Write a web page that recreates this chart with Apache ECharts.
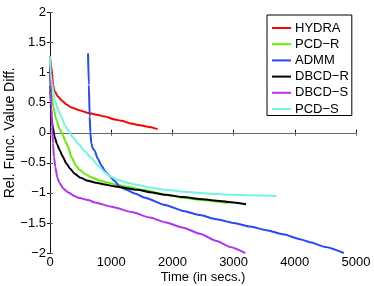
<!DOCTYPE html>
<html>
<head>
<meta charset="utf-8">
<script src="https://cdn.jsdelivr.net/npm/echarts@6/dist/echarts.min.js"></script>
<style>html,body{margin:0;padding:0;background:#fff}#c{width:374px;height:286px}</style>
</head>
<body>
<div id="c"></div>
<script>
// Data: [time (secs), relative function value difference]
const seriesNames = ['HYDRA', 'PCD\u2212R', 'ADMM', 'DBCD\u2212R', 'DBCD\u2212S', 'PCD\u2212S'];
const hydra = [[0,1.27],[15,1.12],[33,1.0],[49,0.8],[70,0.7],[131,0.6],[200,0.53],[270,0.47],[350,0.42],[463,0.38],[621,0.33],[760,0.3],[899,0.27],[1057,0.22],[1171,0.2],[1300,0.16],[1438,0.13],[1600,0.1],[1759,0.06]];
const pcdR = [[0,1.27],[8,0.9],[22,0.66],[50,0.45],[104,0.21],[160,0.06],[212,-0.04],[250,-0.14],[294,-0.23],[349,-0.4],[420,-0.54],[485,-0.62],[580,-0.69],[675,-0.74],[800,-0.79],[948,-0.83],[1100,-0.87],[1275,-0.9],[1500,-0.95],[1900,-1.03],[2178,-1.08],[2500,-1.12],[2900,-1.17]];
const admm = [[621,1.32],[635,0.8],[648,0.27],[660,0.0],[675,-0.18],[700,-0.26],[730,-0.3],[780,-0.43],[838,-0.54],[900,-0.64],[975,-0.72],[1050,-0.8],[1138,-0.89],[1250,-0.95],[1383,-1.01],[1552,-1.08],[1879,-1.2],[2178,-1.3],[2450,-1.37],[2723,-1.44],[3000,-1.5],[3268,-1.56],[3540,-1.62],[3813,-1.69],[4085,-1.77],[4248,-1.82],[4500,-1.9],[4800,-2.0]];
const dbcdR = [[0,1.27],[5,0.8],[12,0.5],[22,0.27],[45,0.1],[76,-0.07],[115,-0.19],[158,-0.29],[210,-0.4],[267,-0.51],[330,-0.6],[403,-0.68],[500,-0.75],[621,-0.8],[750,-0.83],[893,-0.86],[1050,-0.89],[1166,-0.91],[1438,-0.95],[1634,-0.99],[1879,-1.03],[2178,-1.07],[2450,-1.1],[2723,-1.13],[3000,-1.16],[3203,-1.19]];
const dbcdS = [[0,1.27],[8,0.7],[22,0.43],[35,0.1],[49,-0.18],[65,-0.4],[87,-0.57],[120,-0.75],[158,-0.84],[220,-0.93],[294,-0.99],[400,-1.05],[463,-1.08],[621,-1.12],[735,-1.16],[1008,-1.23],[1335,-1.32],[1634,-1.41],[1879,-1.49],[2178,-1.58],[2450,-1.68],[2723,-1.8],[2941,-1.9],[3190,-2.0]];
const pcdS = [[0,1.27],[11,1.0],[33,0.82],[76,0.54],[136,0.38],[185,0.27],[245,0.12],[294,0.04],[380,-0.08],[458,-0.18],[560,-0.3],[675,-0.42],[800,-0.56],[900,-0.66],[975,-0.72],[1100,-0.78],[1300,-0.84],[1438,-0.87],[1634,-0.91],[1900,-0.95],[2178,-0.98],[2450,-1.0],[2723,-1.02],[3000,-1.03],[3268,-1.04],[3700,-1.05]];
const xTicks = {min: 0, max: 5000, interval: 1000};
const yTicks = {min: -2, max: 2, interval: 0.5};
const colors = ['#ff0000', '#62f000', '#2648f8', '#000000', '#b233f2', '#72f6df'];
const allData = [hydra, pcdR, admm, dbcdR, dbcdS, pcdS];

const font = 'Liberation Sans, Arial, Helvetica, sans-serif';
const chart = echarts.init(document.getElementById('c'), null, {renderer: 'canvas'});
const minusFmt = v => String(v).replace('-', '\u2212');
chart.setOption({
  animation: false,
  backgroundColor: '#fff',
  grid: {left: 50, right: 18, top: 12.5, bottom: 33, containLabel: false, outerBoundsMode: 'none'},
  legend: {
    orient: 'vertical', left: 267, top: 15,
    padding: [6.5, 3, 0, 5],
    icon: 'rect',
    itemWidth: 19, itemHeight: 2, itemGap: 3.2,
    backgroundColor: '#fff', borderColor: '#000', borderWidth: 1,
    textStyle: {fontFamily: font, fontSize: 13, color: '#000', padding: [0, 0, 0, -1]},
    data: seriesNames
  },
  xAxis: [
    {type: 'value', min: xTicks.min, max: xTicks.max, interval: xTicks.interval,
     name: 'Time (in secs.)', nameLocation: 'middle', nameGap: 17.5, nameMoveOverlap: false,
     nameTextStyle: {fontFamily: font, fontSize: 13, color: '#000'},
     axisLine: {lineStyle: {color: '#111', width: 1}},
     axisTick: {inside: true, length: 3, lineStyle: {color: '#111'}},
     axisLabel: {fontFamily: font, fontSize: 13, color: '#000', margin: 3, formatter: v => String(v)},
     splitLine: {show: false}},
    {type: 'value', position: 'top', min: xTicks.min, max: xTicks.max, interval: xTicks.interval,
     axisLine: {lineStyle: {color: '#666', width: 1}},
     axisTick: {inside: true, length: 3, lineStyle: {color: '#666'}},
     axisLabel: {show: false}, splitLine: {show: false}}
  ],
  yAxis: [
    {type: 'value', min: yTicks.min, max: yTicks.max, interval: yTicks.interval,
     name: 'Rel. Func. Value Diff.', nameLocation: 'middle', nameGap: 33, nameMoveOverlap: false,
     nameTextStyle: {fontFamily: font, fontSize: 14, color: '#000'},
     axisLine: {lineStyle: {color: '#666', width: 1}},
     axisTick: {inside: true, length: 3, lineStyle: {color: '#666'}},
     axisLabel: {fontFamily: font, fontSize: 13, color: '#000', margin: 4, formatter: minusFmt},
     splitLine: {show: false}},
    {type: 'value', position: 'right', min: yTicks.min, max: yTicks.max, interval: yTicks.interval,
     axisLine: {lineStyle: {color: '#111', width: 1}},
     axisTick: {inside: true, length: 3, lineStyle: {color: '#111'}},
     axisLabel: {show: false}, splitLine: {show: false}}
  ],
  series: seriesNames.map((n, i) => ({
    name: n, type: 'line', data: allData[i], xAxisIndex: 0, yAxisIndex: 0,
    symbol: 'none', showSymbol: false, smooth: 0.2, smoothMonotone: 'x',
    color: colors[i],
    itemStyle: {color: colors[i]},
    lineStyle: {color: colors[i], width: 2},
    clip: true
  }))
});
</script>
</body>
</html>
